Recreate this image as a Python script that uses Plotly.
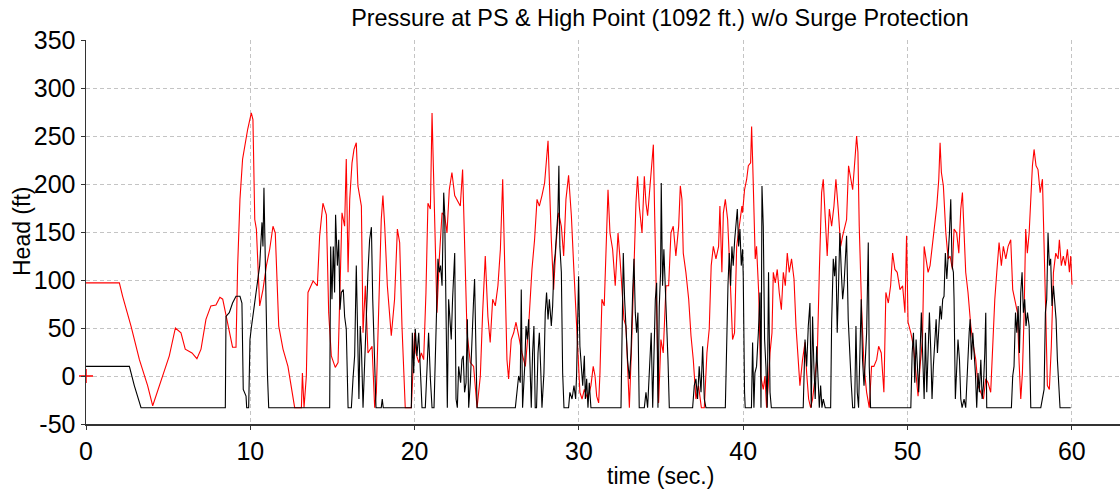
import plotly.graph_objects as go

TITLE = "Pressure at PS & High Point (1092 ft.) w/o Surge Protection"
X_TITLE = "time (sec.)"
Y_TITLE = "Head (ft)"
x_ticks = [0, 10, 20, 30, 40, 50, 60]
y_ticks = [-50, 0, 50, 100, 150, 200, 250, 300, 350]
y_tick_text = ["-50", "0", "50", "100", "150", "200", "250", "300", "350"]

# Pressure at the pump station (red): (time s, head ft)
red_pts = [
    (0, 97), (2.03, 97), (2.23, 83), (2.74, 52), (3.25, 17), (3.75, -10), (4.06, -31),
    (4.67, 0), (5.07, 21), (5.44, 50), (5.78, 45), (6.04, 28), (6.45, 24), (6.75, 18), (7.0, 28),
    (7.3, 59), (7.6, 73), (7.91, 74), (8.15, 82), (8.32, 80), (8.52, 62), (8.92, 30), (9.13, 30),
    (9.23, 115), (9.37, 184), (9.53, 226), (9.84, 257), (10.04, 273), (10.06, 274), (10.16, 267),
    (10.27, 163), (10.37, 153), (10.57, 73), (10.77, 90), (10.98, 115), (11.18, 132), (11.38, 156),
    (11.52, 149), (11.73, 52), (11.99, 28), (12.29, 10), (12.7, -33), (13.11, -33), (13.17, 3),
    (13.27, -33), (13.41, 0), (13.51, 87), (13.82, 99), (14.08, 94), (14.22, 146), (14.42, 180),
    (14.63, 168), (14.77, 66), (14.93, 21), (15.17, 9), (15.34, 14), (15.44, 73), (15.58, 170),
    (15.74, 156), (15.84, 226), (15.95, 108), (16.05, 184), (16.19, 222), (16.31, 236), (16.45, 243),
    (16.55, 198), (16.76, 177), (16.86, 45), (17.0, 94), (17.16, 24), (17.41, 31), (17.57, -33),
    (17.67, -17), (17.87, 94), (17.97, 163), (18.07, 188), (18.18, 156), (18.34, 94), (18.58, 42),
    (18.78, 80), (18.95, 153), (19.09, 139), (19.23, 52), (19.43, -33), (19.8, -33), (20.0, 45),
    (20.08, 24), (20.25, 14), (20.41, 24), (20.55, 17), (20.69, 87), (20.81, 180), (20.96, 174),
    (21.06, 274), (21.16, 212), (21.26, 149), (21.36, 66), (21.5, 122), (21.67, 170), (21.83, 167),
    (21.97, 149), (22.11, 194), (22.27, 212), (22.44, 188), (22.58, 184), (22.78, 177), (22.92, 215),
    (23.04, 142), (23.19, 45), (23.39, 14), (23.59, 10), (23.8, -33), (24.0, 0), (24.14, 66),
    (24.3, 125), (24.46, 62), (24.6, 35), (24.75, 80), (24.91, 73), (25.07, 94), (25.22, 132),
    (25.36, 205), (25.48, 101), (25.62, 17), (25.72, -3), (25.88, 38), (26.03, 45), (26.17, 56),
    (26.33, 42), (26.53, 24), (26.74, 10), (26.94, 52), (27.14, 111), (27.3, 142), (27.45, 184),
    (27.59, 177), (27.75, 188), (27.91, 201), (28.12, 245), (28.2, 201), (28.32, 142), (28.46, 90),
    (28.6, 135), (28.76, 170), (28.93, 156), (29.07, 125), (29.21, 184), (29.37, 209), (29.54, 167),
    (29.68, 115), (29.82, 66), (29.9, 50), (30.0, 10), (30.06, -17), (30.19, -24), (30.33, -14),
    (30.53, -24), (30.73, -10), (30.87, 10), (30.98, 0), (31.08, -21), (31.2, -28), (31.28, 3),
    (31.4, 80), (31.54, 73), (31.69, 170), (31.77, 194), (31.89, 149), (32.05, 132), (32.21, 94),
    (32.38, 149), (32.5, 122), (32.62, 94), (32.74, 59), (32.86, 52), (32.96, 3), (33.07, -33),
    (33.23, 45), (33.37, 128), (33.47, 180), (33.57, 208), (33.67, 177), (33.84, 149), (33.98, 208),
    (34.08, 180), (34.18, 167), (34.28, 188), (34.4, 212), (34.53, 241), (34.61, 167), (34.73, 80),
    (34.85, -28), (34.99, 38), (35.13, 24), (35.3, 94), (35.46, 94), (35.6, 149), (35.74, 156),
    (35.9, 125), (36.07, 156), (36.17, 198), (36.27, 184), (36.35, 128), (36.51, 108), (36.68, 80),
    (36.82, 42), (36.96, 17), (37.12, -24), (37.28, -10), (37.45, -33), (37.63, -33), (37.79, 24),
    (37.93, 49), (38.05, 115), (38.18, 135), (38.34, 122), (38.5, 135), (38.58, 177), (38.7, 108),
    (38.79, 170), (38.91, 184), (39.05, 163), (39.19, 108), (39.35, 38), (39.47, 45), (39.6, 135),
    (39.76, 156), (39.92, 177), (39.96, 170), (40.08, 194), (40.21, 205), (40.31, 219), (40.45, 222),
    (40.51, 260), (40.57, 226), (40.65, 156), (40.73, 122), (40.81, 135), (40.94, 87), (41.06, 0),
    (41.22, -14), (41.32, 0), (41.42, -33), (41.52, -10), (41.63, 24), (41.75, 45), (41.83, 108),
    (41.95, 97), (42.07, 111), (42.19, 87), (42.32, 69), (42.44, 108), (42.56, 94), (42.68, 128),
    (42.8, 108), (42.94, 122), (43.09, 101), (43.21, 52), (43.35, 14), (43.45, -10), (43.61, 17),
    (43.76, 35), (43.86, 3), (43.98, -24), (44.1, -33), (44.22, -24), (44.36, -3), (44.51, 24),
    (44.63, 108), (44.77, 191), (44.87, 205), (44.97, 174), (45.11, 125), (45.24, 174), (45.38, 156),
    (45.52, 177), (45.64, 205), (45.78, 174), (45.93, 135), (46.05, 146), (46.17, 156), (46.29, 163),
    (46.41, 219), (46.53, 208), (46.66, 194), (46.8, 226), (46.9, 250), (46.98, 233), (47.06, 156),
    (47.2, 73), (47.35, 10), (47.51, -17), (47.67, -33), (47.81, 10), (47.95, 10), (48.12, 17),
    (48.24, 31), (48.4, 24), (48.56, -17), (48.68, 87), (48.83, 76), (48.97, 94), (49.09, 128),
    (49.23, 111), (49.37, 108), (49.54, 90), (49.7, 94), (49.84, 66), (49.94, 146), (50.03, 56),
    (50.2, 45), (50.36, 31), (50.5, 3), (50.64, -21), (50.76, 10), (50.91, 38), (51.01, 135),
    (51.11, 122), (51.25, 108), (51.37, 115), (51.51, 135), (51.66, 156), (51.78, 177), (51.9, 205),
    (51.98, 243), (52.06, 212), (52.18, 198), (52.33, 149), (52.47, 122), (52.59, 125), (52.73, 111),
    (52.83, 153), (52.99, 149), (53.12, 128), (53.24, 174), (53.34, 191), (53.44, 156), (53.54, 108),
    (53.68, 87), (53.85, 52), (54.01, 31), (54.15, 17), (54.29, -10), (54.46, -17), (54.62, -24),
    (54.76, -3), (54.9, -7), (55.06, -17), (55.16, 24), (55.31, 80), (55.43, 108), (55.57, 139),
    (55.71, 115), (55.83, 135), (55.98, 122), (56.12, 135), (56.28, 142), (56.4, 90), (56.52, 80),
    (56.69, 66), (56.79, 14), (56.89, -24), (56.99, 3), (57.09, 62), (57.19, 153), (57.29, 128),
    (57.4, 149), (57.5, 194), (57.6, 219), (57.7, 236), (57.82, 219), (57.94, 215), (58.07, 191),
    (58.21, 205), (58.31, 115), (58.41, 66), (58.51, -10), (58.63, -14), (58.75, 31), (58.88, 108),
    (59.02, 128), (59.16, 122), (59.24, 142), (59.36, 115), (59.48, 125), (59.6, 115), (59.73, 132),
    (59.85, 108), (59.93, 125), (60.01, 95),
]

# Pressure at the high point (black): (time s, head ft)
black_pts = [
    (0, 10), (2.64, 10), (2.94, -10), (3.35, -33), (8.48, -33), (8.52, 62), (8.72, 66), (8.92, 76),
    (9.13, 83), (9.37, 83), (9.49, 76), (9.57, -14), (9.74, -21), (9.78, -33), (9.9, -33), (9.98, 38),
    (10.06, 50), (10.16, 62), (10.37, 87), (10.57, 115), (10.71, 160), (10.77, 135), (10.83, 196),
    (10.91, 122), (10.98, 45), (11.04, 3), (11.12, -33), (14.83, -33), (14.89, 135), (14.97, 80),
    (15.05, 135), (15.13, 87), (15.19, 168), (15.3, 115), (15.38, 142), (15.46, 69), (15.54, 87),
    (15.66, 90), (15.74, 62), (15.84, 49), (15.95, -33), (16.15, -33), (16.25, -3), (16.35, 21),
    (16.45, 115), (16.55, 38), (16.61, -24), (16.69, 52), (16.76, 31), (16.86, -33), (16.96, 17),
    (17.06, 66), (17.16, 108), (17.26, 142), (17.37, 155), (17.45, 80), (17.53, 24), (17.65, -33),
    (17.97, -33), (18.03, -24), (18.09, -33), (19.8, -33), (19.86, 45), (19.94, 3), (20.04, 49),
    (20.14, 21), (20.25, 45), (20.35, -3), (20.45, -33), (20.65, -33), (20.75, 3), (20.85, 45),
    (20.96, -3), (21.06, -33), (21.18, -33), (21.3, 45), (21.42, 122), (21.5, 108), (21.58, 115),
    (21.67, 94), (21.77, 191), (21.83, 170), (21.91, 80), (21.99, -33), (22.07, 80), (22.15, 59),
    (22.23, 38), (22.31, 80), (22.44, 128), (22.52, -24), (22.6, -33), (22.68, 10), (22.8, -7),
    (22.88, 17), (22.96, 21), (23.04, -17), (23.13, -7), (23.21, 59), (23.29, -33), (23.39, -7),
    (23.49, 45), (23.59, 80), (23.65, 101), (23.73, 45), (23.8, -33), (26.13, -33), (26.23, -14),
    (26.33, 0), (26.43, -7), (26.49, 90), (26.57, -33), (26.7, 10), (26.78, 52), (26.86, 38),
    (26.94, 59), (27.02, 17), (27.1, -33), (27.18, 24), (27.26, 52), (27.34, -33), (27.42, -33),
    (27.51, 24), (27.59, 45), (27.67, 10), (27.75, -33), (27.87, 3), (27.95, 66), (28.03, 87),
    (28.12, 59), (28.2, 80), (28.32, 52), (28.4, 73), (28.48, 115), (28.56, 128), (28.64, 149),
    (28.72, 170), (28.78, 219), (28.84, 135), (28.93, 108), (29.01, 3), (29.09, -33), (29.37, -33),
    (29.45, -17), (29.58, -24), (29.7, -10), (29.8, -24), (29.86, 3), (29.92, 45), (29.98, 104),
    (30.06, 31), (30.14, 10), (30.23, -10), (30.33, 21), (30.39, -24), (30.47, -3), (30.55, -33),
    (30.63, -7), (30.73, -33), (32.56, -33), (32.62, 66), (32.7, 128), (32.78, 80), (32.86, 45),
    (32.96, 17), (33.07, -3), (33.17, 24), (33.27, 87), (33.35, 122), (33.43, 66), (33.51, 45),
    (33.59, 66), (33.67, -33), (33.98, -33), (34.08, -17), (34.18, -33), (34.28, 10), (34.4, 45),
    (34.49, -33), (34.57, 45), (34.65, 80), (34.73, 97), (34.81, -33), (34.89, 73), (34.97, 108),
    (35.01, 201), (35.09, 94), (35.17, 132), (35.26, 94), (35.34, 45), (35.42, 17), (35.5, -33),
    (36.92, -33), (37.02, -10), (37.12, -3), (37.22, -24), (37.32, 10), (37.43, -17), (37.53, 31),
    (37.63, -24), (37.73, -33), (38.91, -33), (38.99, 38), (39.07, 94), (39.15, 128), (39.23, 94),
    (39.31, 135), (39.39, 115), (39.48, 142), (39.56, 163), (39.64, 174), (39.72, 135), (39.8, 153),
    (39.88, 115), (39.96, 132), (40.0, 104), (40.04, 24), (40.08, -17), (40.12, -33), (40.5, -33),
    (40.57, 35), (40.65, -33), (40.71, 3), (40.81, 10), (40.92, 45), (41.02, 87), (41.08, -33),
    (41.14, 198), (41.22, 156), (41.3, 38), (41.38, 10), (41.46, -33), (41.54, 108), (41.63, -17),
    (41.71, -33), (43.65, -33), (43.76, 38), (43.86, 10), (43.96, 52), (44.06, 76), (44.14, -33),
    (44.22, 62), (44.3, 10), (44.38, -24), (44.47, 31), (44.55, 3), (44.63, -33), (44.71, -10),
    (44.79, -33), (44.87, -24), (44.99, -33), (45.32, -33), (45.38, 56), (45.48, 122), (45.56, 104),
    (45.64, 125), (45.72, 45), (45.8, 94), (45.88, 149), (45.97, 108), (46.05, 80), (46.13, 94),
    (46.21, 122), (46.29, 146), (46.39, 59), (46.49, 10), (46.57, -7), (46.66, -33), (46.78, -33),
    (46.86, 52), (46.94, -17), (47.02, -33), (47.1, 45), (47.18, 80), (47.26, 17), (47.35, -10),
    (47.43, 17), (47.51, 45), (47.61, 139), (47.67, 10), (47.75, -33), (50.2, -33), (50.28, 24),
    (50.36, 45), (50.44, -7), (50.52, 38), (50.6, 10), (50.68, -17), (50.76, 24), (50.84, 66),
    (50.93, 17), (51.01, -24), (51.09, 45), (51.17, -17), (51.25, 24), (51.33, 66), (51.41, 28),
    (51.49, -24), (51.57, 10), (51.66, 45), (51.74, 59), (51.82, 24), (51.9, 45), (51.98, 73),
    (52.06, 59), (52.14, 80), (52.22, 83), (52.3, 128), (52.39, 101), (52.47, 122), (52.55, 149),
    (52.63, 184), (52.71, 115), (52.79, 108), (52.83, 80), (52.91, -24), (52.99, 17), (53.07, 38),
    (53.16, 17), (53.24, -24), (53.32, -33), (53.44, -24), (53.54, -33), (53.64, 10), (53.75, 45),
    (53.81, 59), (53.89, 17), (53.97, 45), (54.05, 28), (54.13, 3), (54.21, -33), (54.29, 3),
    (54.37, -17), (54.46, 17), (54.54, -24), (54.62, -10), (54.7, 24), (54.76, 66), (54.82, -33),
    (56.32, -33), (56.4, 0), (56.48, 10), (56.57, 66), (56.65, 45), (56.73, 73), (56.81, 24),
    (56.89, 87), (56.97, 108), (57.05, 66), (57.13, 80), (57.21, 52), (57.3, 66), (57.4, 52),
    (57.5, -33), (58.11, -33), (58.19, -24), (58.31, -14), (58.39, 66), (58.47, 80), (58.55, 149),
    (58.63, 115), (58.71, 122), (58.79, 73), (58.88, 94), (58.96, 80), (59.04, 59), (59.12, 17),
    (59.2, -10), (59.28, -33), (59.93, -33),
]

red_t = [p[0] for p in red_pts]
red_v = [p[1] for p in red_pts]
black_t = [p[0] for p in black_pts]
black_v = [p[1] for p in black_pts]

FONT = "Liberation Sans, Arial, sans-serif"
W, H = 1120, 489

fig = go.Figure()
fig.add_trace(go.Scatter(x=red_t, y=red_v, mode="lines",
                         line=dict(color="#ff0000", width=1.1), hoverinfo="skip"))
fig.add_trace(go.Scatter(x=black_t, y=black_v, mode="lines",
                         line=dict(color="#000000", width=1.1), hoverinfo="skip"))
fig.add_trace(go.Scatter(x=[0], y=[0], mode="markers", cliponaxis=False,
                         marker=dict(symbol="cross-thin", size=10,
                                     line=dict(color="#ff0000", width=1.5)),
                         hoverinfo="skip"))

axis_common = dict(
    showgrid=True, gridcolor="#c4c4c4", griddash="4px,3px", gridwidth=1,
    zeroline=False, showline=True, linecolor="#333333", linewidth=1.5,
    ticks="outside", ticklen=4, tickcolor="#333333", tickwidth=1,
    tickfont=dict(family=FONT, size=25, color="#000000"),
)

fig.update_layout(
    width=W, height=H,
    margin=dict(l=86, r=0, t=40, b=65, autoexpand=False),
    paper_bgcolor="white", plot_bgcolor="white",
    showlegend=False,
    title=dict(text=TITLE, x=660 / W, xanchor="center", xref="container",
               y=1 - 18 / H, yanchor="middle", yref="container",
               font=dict(family=FONT, size=23.4, color="#000000")),
    xaxis=dict(range=[0, 62.93], tickvals=x_ticks, **axis_common),
    yaxis=dict(range=[-50, 350], tickvals=y_ticks, ticktext=y_tick_text, **axis_common),
    annotations=[
        dict(text=X_TITLE, xref="paper", yref="paper",
             x=(660 - 86) / (W - 86), y=-(476 - 424) / 384,
             xanchor="center", yanchor="middle", showarrow=False,
             font=dict(family=FONT, size=23, color="#000000")),
        dict(text=Y_TITLE, xref="paper", yref="paper",
             x=-(86 - 22) / (W - 86), y=(424 - 232) / 384, textangle=-90,
             xanchor="center", yanchor="middle", showarrow=False,
             font=dict(family=FONT, size=23, color="#000000")),
    ],
)

fig.write_html("out.html", config={"displayModeBar": False, "staticPlot": True},
               post_script="document.body.style.margin='0px';document.body.style.padding='0px';")
